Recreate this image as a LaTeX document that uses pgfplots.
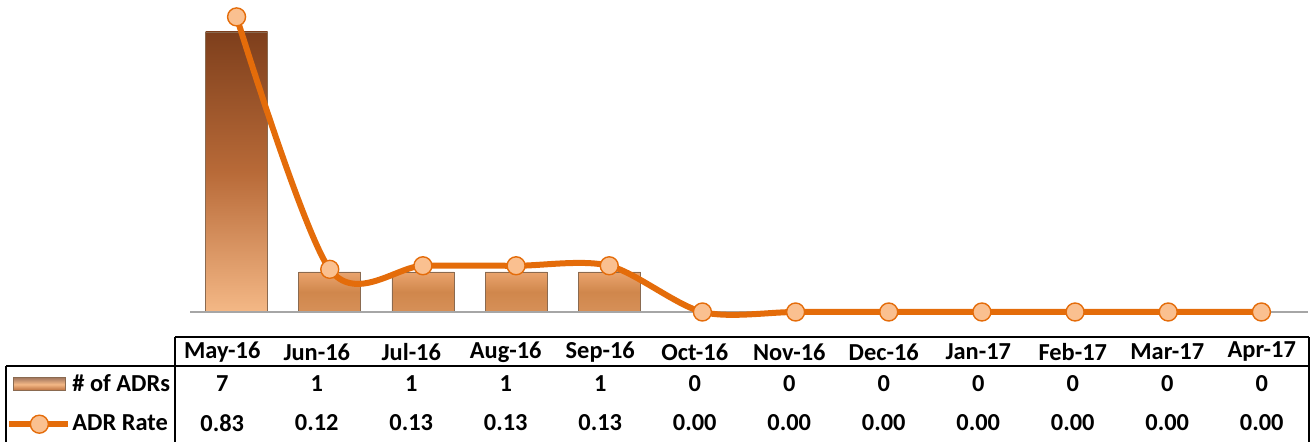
\documentclass[border=0pt]{standalone}
\usepackage{fontspec}
\setmainfont{Carlito}
\usepackage{pgfplots}
\usepackage{pgfplotstable}
\pgfplotsset{compat=1.18}
\definecolor{lineor}{HTML}{E46C0A}
\definecolor{markfill}{HTML}{FAC090}
\definecolor{bartop}{HTML}{7E3F1C}
\definecolor{barmid}{HTML}{B86A38}
\definecolor{barbot}{HTML}{F4B886}
\definecolor{sbtop}{HTML}{EAA46E}
\definecolor{sbmid}{HTML}{D0874C}
\definecolor{sbbot}{HTML}{D69058}
\definecolor{baredge}{HTML}{8A6A50}
\definecolor{basegray}{HTML}{A6A6A6}
\pgfplotstableread{
x adrs rate
0 7 0.83
1 1 0.12
2 1 0.13
3 1 0.13
4 1 0.13
5 0 0.00
6 0 0.00
7 0 0.00
8 0 0.00
9 0 0.00
10 0 0.00
11 0 0.00
}\datatab
\tikzset{tabtxt/.style={font=\bfseries\fontsize{12.2}{14}\selectfont, anchor=center, inner sep=0pt}}
\begin{document}
\begin{tikzpicture}[x=0.5pt,y=0.5pt]
\useasboundingbox (0,0) rectangle (1311,442);
% bars (primary axis)
\begin{axis}[at={(95pt,65pt)}, anchor=south west, scale only axis,
  width=559pt, height=160pt, xmin=-0.5, xmax=11.5, ymin=0, ymax=8,
  axis lines=none, clip=false, ybar, bar width=31pt, bar shift=0pt]
\addplot[draw=baredge, line width=0.4pt, top color=bartop, bottom color=barbot, middle color=barmid,
  restrict x to domain=-0.5:0.5]
  table[x=x, y=adrs] {\datatab};
\addplot[draw=baredge, line width=0.4pt, top color=sbtop, bottom color=sbbot, middle color=sbmid,
  restrict x to domain=0.5:4.5]
  table[x=x, y=adrs] {\datatab};
\draw[basegray, line width=0.8pt] (axis cs:-0.5,0) -- (axis cs:11.5,0);
\end{axis}
% line (secondary axis)
\begin{axis}[at={(95pt,65pt)}, anchor=south west, scale only axis,
  width=559pt, height=160pt, xmin=-0.5, xmax=11.5, ymin=0, ymax=0.9,
  axis lines=none, clip=false,
  legend style={at={(rel axis cs:-0.1646,-0.192)}, anchor=north west, draw=none, fill=none,
    font=\bfseries\fontsize{12.2}{14}\selectfont, row sep=9pt, inner sep=0pt,
    nodes={inner sep=0.5pt}},
  legend cell align=left]
\addlegendimage{legend image code/.code={
  \fill[top color=bartop!70, bottom color=barmid, middle color=barbot] (2pt,-3pt) rectangle (28pt,3.5pt);
  \draw[baredge, line width=0.4pt] (2pt,-3pt) rectangle (28pt,3.5pt);}}
\addlegendentry{\# of ADRs}
\addplot[lineor, line width=3pt, smooth, mark=*, mark size=4.5pt,
  mark options={fill=markfill, draw=lineor, line width=0.7pt},
  legend image code/.code={
    \draw[lineor, line width=3pt] (0pt,0pt) -- (29.5pt,0pt);
    \draw[lineor, fill=markfill, line width=0.7pt] (15pt,0pt) circle (4.5pt);}]
  table[x=x, y=rate] {\datatab};
\addlegendentry{ADR Rate}
\end{axis}
% data table text
\foreach \m [count=\i from 0] in {May-16,Jun-16,Jul-16,Aug-16,Sep-16,Oct-16,Nov-16,Dec-16,Jan-17,Feb-17,Mar-17,Apr-17}
  \node[tabtxt] at (222.25+94.5*\i, 90) {\m};
\foreach \v [count=\i from 0] in {7,1,1,1,1,0,0,0,0,0,0,0}
  \node[tabtxt] at (222.25+94.5*\i, 58) {\v};
\foreach \v [count=\i from 0] in {0.83,0.12,0.13,0.13,0.13,0.00,0.00,0.00,0.00,0.00,0.00,0.00}
  \node[tabtxt] at (222.25+94.5*\i, 19) {\v};
% table lines
\draw[black, line width=0.75pt] (175,105) -- (1309,105);
\draw[black, line width=0.75pt] (6,76) -- (1309,76);
\draw[black, line width=0.75pt] (175,105) -- (175,-2);
\draw[black, line width=0.75pt] (6,76) -- (6,-2);
\draw[black, line width=0.75pt] (1309,105) -- (1309,-2);
\end{tikzpicture}
\end{document}
